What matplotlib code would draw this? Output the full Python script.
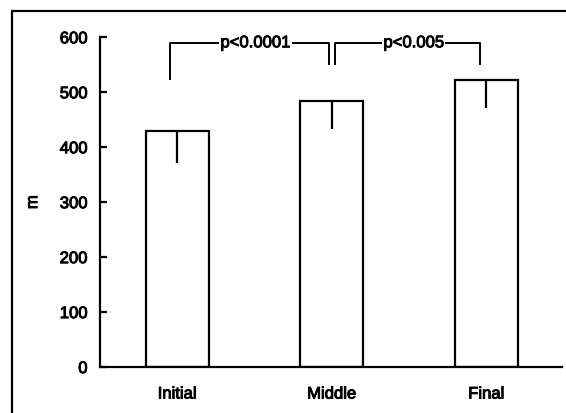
import numpy as np
import matplotlib
matplotlib.use('Agg')
import matplotlib.pyplot as plt
from matplotlib import patheffects as pe
from matplotlib.patches import Rectangle

plt.rcParams['font.family'] = ['Liberation Sans', 'DejaVu Sans']

groups = ['Initial', 'Middle', 'Final']
distance = [430, 484, 523]      # m
err_down = [58, 50, 52]
y_ticks = [0, 100, 200, 300, 400, 500, 600]

# significance brackets: (left bar, right bar, label, left leg end, right leg end)
brackets = [(0, 1, 'p<0.0001', 524, 551),
            (1, 2, 'p<0.005', 551, 551)]
bracket_top = 590

thick = [pe.withStroke(linewidth=0.7, foreground='black')]

fig = plt.figure(figsize=(5.66, 4.14), dpi=100)
ax = fig.add_axes([0.1767, 0.111, 0.8163, 0.7965])

# outer frame, only top and left edges are visible
fig.patches.append(Rectangle((12 / 566, -0.1), 1.2, (414 - 12) / 414 + 0.1,
                             transform=fig.transFigure, fill=False,
                             lw=1.6, ec='black'))

x = np.arange(len(groups))
ax.bar(x, distance, width=0.41, color='white', edgecolor='black', linewidth=1.6,
       zorder=2)
ax.errorbar(x, distance, yerr=[err_down, [0] * len(x)], fmt='none',
            ecolor='black', elinewidth=1.6, capsize=0, zorder=3)

# brackets with p values
offs = {0: (-0.05, 0.0), 1: (-0.02, 0.02), 2: (-0.04, 0.0)}
for a, b, label, ya, yb in brackets:
    xa = a + (offs[a][1] if a == 1 else offs[a][0])
    xb = b + offs[b][0]
    ax.plot([xa, xa, xb, xb], [ya, bracket_top, bracket_top, yb],
            color='black', lw=1.4, zorder=4, clip_on=False)
    ax.text((xa + xb) / 2 + 0.04, bracket_top, label, ha='center', va='center',
            fontsize=12, zorder=5, path_effects=thick,
            bbox=dict(facecolor='white', edgecolor='none', pad=1))

ax.set_xlim(-0.5, 2.49)
ax.set_ylim(0, 600)
ax.set_yticks(y_ticks)
ax.set_xticks(x)
ax.set_xticklabels(groups)
ax.tick_params(axis='y', direction='in', length=5, width=1.6, pad=9, labelsize=12)
ax.tick_params(axis='x', length=0, pad=14, labelsize=12)
for lab in ax.get_xticklabels() + ax.get_yticklabels():
    lab.set_path_effects(thick)

for s in ['top', 'right']:
    ax.spines[s].set_visible(False)
for s in ['left', 'bottom']:
    ax.spines[s].set_linewidth(1.6)

ax.set_ylabel('m', fontsize=12, labelpad=14, path_effects=thick)

fig.savefig('out.png', dpi=100)
